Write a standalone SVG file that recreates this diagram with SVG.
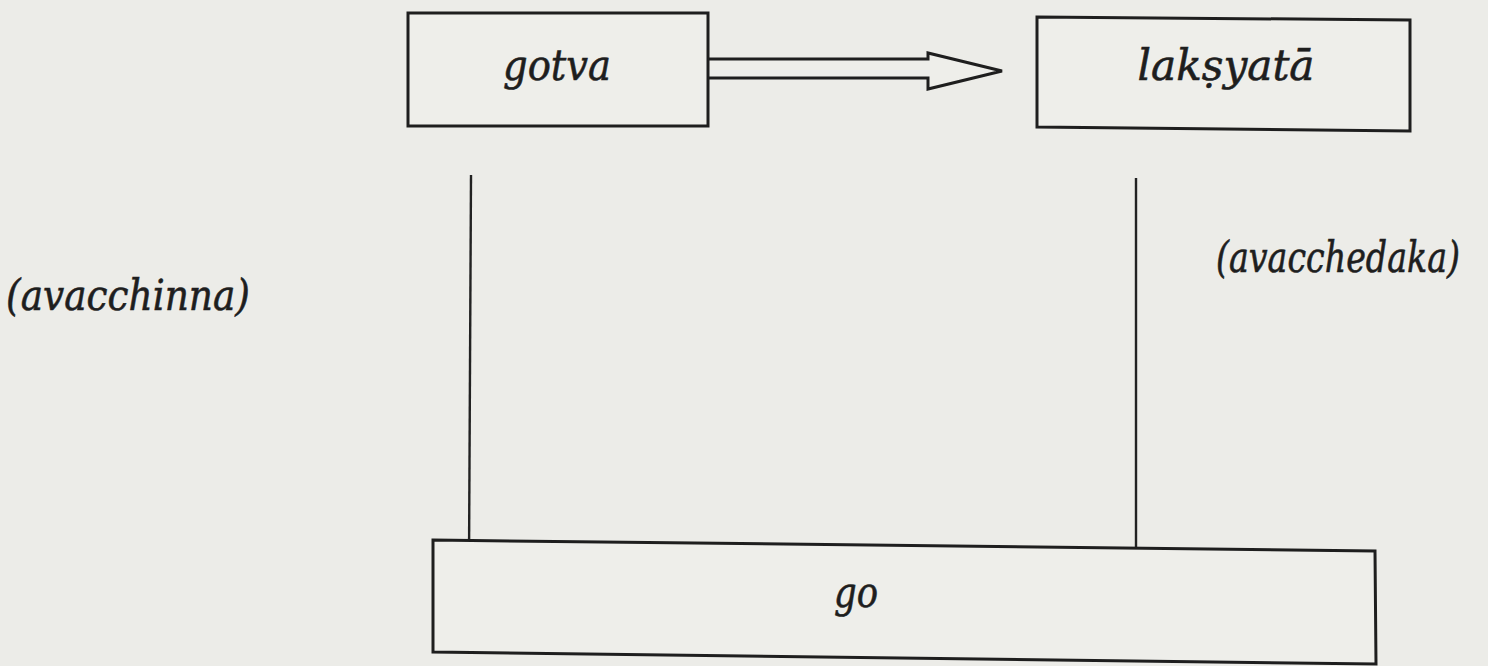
<svg xmlns="http://www.w3.org/2000/svg" width="1488" height="666" viewBox="0 0 1488 666">
<style>
.box{fill:#eeeeea;stroke:#1e1e1e;stroke-width:3}
.ln{fill:none;stroke:#222;stroke-width:2.4}
.t{font-family:"DejaVu Serif","Liberation Serif",serif;font-style:italic;fill:#1e1e1e;stroke:#1e1e1e;stroke-width:0.6;font-size:43px}
</style>
<rect width="1488" height="666" fill="#ecece8"/>
<g id="connectors">
<path d="M708,59 L928,59 L928,53 L1002,71 L928,89 L928,78 L708,78" style="fill:#eeeeea;stroke:#1e1e1e;stroke-width:3"/>
<line class="ln" x1="471" y1="175" x2="469" y2="560"/>
<line class="ln" x1="1136" y1="178" x2="1136" y2="568"/>
</g>
<g id="gotva">
<rect class="box" x="408" y="13" width="300" height="113"/>
<text class="t" x="557" y="80" text-anchor="middle" textLength="108" lengthAdjust="spacingAndGlyphs">gotva</text>
</g>
<g id="laksyata">
<path class="box" d="M1037,17 L1410,20 L1410,131 L1037,127 Z"/>
<text class="t" x="1226" y="80" text-anchor="middle" textLength="177" lengthAdjust="spacingAndGlyphs">lakṣyatā</text>
</g>
<g id="go">
<path class="box" d="M433,540 L1375,551 L1376,664 L433,652 Z"/>
<text class="t" x="856" y="607" text-anchor="middle" textLength="44" lengthAdjust="spacingAndGlyphs">go</text>
</g>
<g id="labels">
<text class="t" x="6" y="310" textLength="244" lengthAdjust="spacingAndGlyphs">(avacchinna)</text>
<g transform="translate(1216,272) scale(1,1.38)">
<text class="t" x="0" y="0" style="font-size:31px;stroke-width:0.45" textLength="244" lengthAdjust="spacingAndGlyphs">(avacchedaka)</text>
</g>
</g>
</svg>
